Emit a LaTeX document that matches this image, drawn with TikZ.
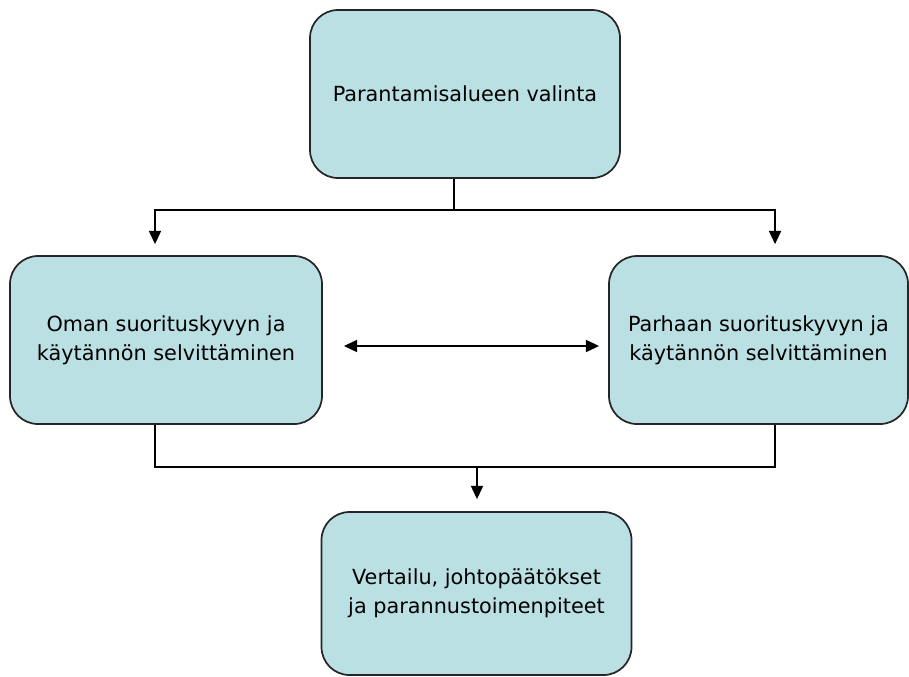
\documentclass[tikz,border=0pt]{standalone}
\usepackage{fontspec}
\setmainfont{DejaVu Sans}
\usetikzlibrary{arrows.meta}
\definecolor{boxfill}{RGB}{187,224,227}

\begin{document}
\begin{tikzpicture}[x=0.75pt, y=0.75pt,
    phase/.style={draw=black!85, line width=1.3pt, fill=boxfill, rounded corners=21pt,
      minimum width=232.5pt, minimum height=126pt, align=center, inner sep=0pt,
      font=\fontsize{15.6}{21.5}\selectfont},
    link/.style={line width=1.5pt},
    flow/.style={link, -{Triangle[width=9pt,length=10pt]}}]

    \useasboundingbox (0,0) rectangle (909,-676);

    \node[phase]                           (valinta)  at (465,-94)    {Parantamisalueen valinta};
    \node[phase, minimum width=234pt]      (oma)      at (166,-340)   {Oman suorituskyvyn ja\\käytännön selvittäminen};
    \node[phase, minimum width=224.25pt]   (paras)    at (758.5,-340) {Parhaan suorituskyvyn ja\\käytännön selvittäminen};
    \node[phase, minimum height=122.25pt]  (vertailu) at (476.5,-593.5) {Vertailu, johtopäätökset\\ja parannustoimenpiteet};

    \coordinate (split) at (454,-210);
    \coordinate (merge) at (477,-467);

    % from the choice down to both surveys
    \draw[link] ([xshift=-8.25pt]valinta.south) -- (split);
    \draw[flow, shorten >=8.25pt] (split) -| ([xshift=-8.25pt]oma.north);
    \draw[flow, shorten >=8.25pt] (split) -| ([xshift=12.4pt]paras.north);

    % own vs. best
    \draw[link, {Triangle[width=9pt,length=10pt]}-{Triangle[width=9pt,length=10pt]},
          shorten <=15.75pt, shorten >=6.75pt]
        ([yshift=-4.5pt]oma.east) -- ([yshift=-4.5pt]paras.west);

    % both surveys into the comparison
    \draw[link] ([xshift=-8.25pt]oma.south) |- (merge) -| ([xshift=12.4pt]paras.south);
    \draw[flow, shorten >=9pt] (merge) -- (merge |- vertailu.north);

\end{tikzpicture}
\end{document}
